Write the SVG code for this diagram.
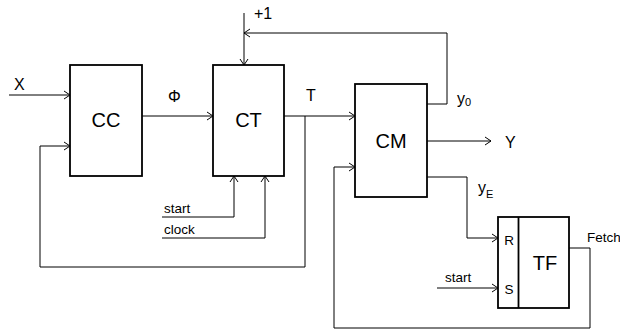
<svg xmlns="http://www.w3.org/2000/svg" width="620" height="334" viewBox="0 0 620 334">
<defs>
<marker id="arr" markerWidth="8" markerHeight="10" refX="7" refY="5" orient="auto" markerUnits="userSpaceOnUse">
<path d="M1,1 L7,5 L1,9" fill="none" stroke="#000" stroke-width="1"/>
</marker>
</defs>
<style>
.box{fill:#fff;stroke:#000;stroke-width:1.8}
.ln{fill:none;stroke:#000;stroke-width:1}
.big{font-family:"Liberation Sans",Arial,sans-serif;font-size:20px;fill:#000}
.lbl{font-family:"Liberation Sans",Arial,sans-serif;font-size:16px;fill:#000}
.sm{font-family:"Liberation Sans",Arial,sans-serif;font-size:13.5px;fill:#000}
</style>
<rect width="620" height="334" fill="#fff"/>
<g id="connectors">
<path class="ln" d="M9,95 H70" marker-end="url(#arr)"/>
<path class="ln" d="M305,116 V267 H40 V146 H70" marker-end="url(#arr)"/>
<path class="ln" d="M142,116 H213" marker-end="url(#arr)"/>
<path class="ln" d="M244,13 V65" marker-end="url(#arr)"/>
<path class="ln" d="M427,104 H447 V33 H244" marker-end="url(#arr)"/>
<path class="ln" d="M162,217 H234 V176" marker-end="url(#arr)"/>
<path class="ln" d="M162,238 H265 V176" marker-end="url(#arr)"/>
<path class="ln" d="M284,116 H355" marker-end="url(#arr)"/>
<path class="ln" d="M427,141 H491" marker-end="url(#arr)"/>
<path class="ln" d="M427,177 H467 V238 H498" marker-end="url(#arr)"/>
<path class="ln" d="M437,288 H498" marker-end="url(#arr)"/>
<path class="ln" d="M569,248 H590 V328 H334 V167 H355" marker-end="url(#arr)"/>
</g>
<g id="CC">
<rect class="box" x="70" y="65" width="72" height="111"/>
<text class="big" x="106" y="127" text-anchor="middle">CC</text>
</g>
<g id="CT">
<rect class="box" x="213" y="65" width="71" height="111"/>
<text class="big" x="248.5" y="127" text-anchor="middle">CT</text>
</g>
<g id="CM">
<rect class="box" x="355" y="84" width="72" height="113"/>
<text class="big" x="391" y="148" text-anchor="middle">CM</text>
</g>
<g id="TF">
<rect class="box" x="498" y="217" width="71" height="91"/>
<line class="box" x1="518.5" y1="217" x2="518.5" y2="308"/>
<text class="sm" x="509" y="245" text-anchor="middle">R</text>
<text class="sm" x="509" y="294" text-anchor="middle">S</text>
<text class="big" x="545" y="270" text-anchor="middle">TF</text>
</g>
<g id="labels">
<text class="lbl" x="14" y="90">X</text>
<text class="lbl" x="168" y="102">Φ</text>
<text class="lbl" x="254" y="19">+1</text>
<text class="lbl" x="306" y="101">T</text>
<text class="sm" x="164" y="213">start</text>
<text class="sm" x="164" y="234">clock</text>
<text class="lbl" x="457" y="104">y<tspan font-size="11" dy="2">0</tspan></text>
<text class="lbl" x="505" y="148">Y</text>
<text class="lbl" x="478" y="193">y<tspan font-size="11" dy="5">E</tspan></text>
<text class="sm" x="445" y="282">start</text>
<text class="sm" x="587" y="242">Fetch</text>
</g>
</svg>
